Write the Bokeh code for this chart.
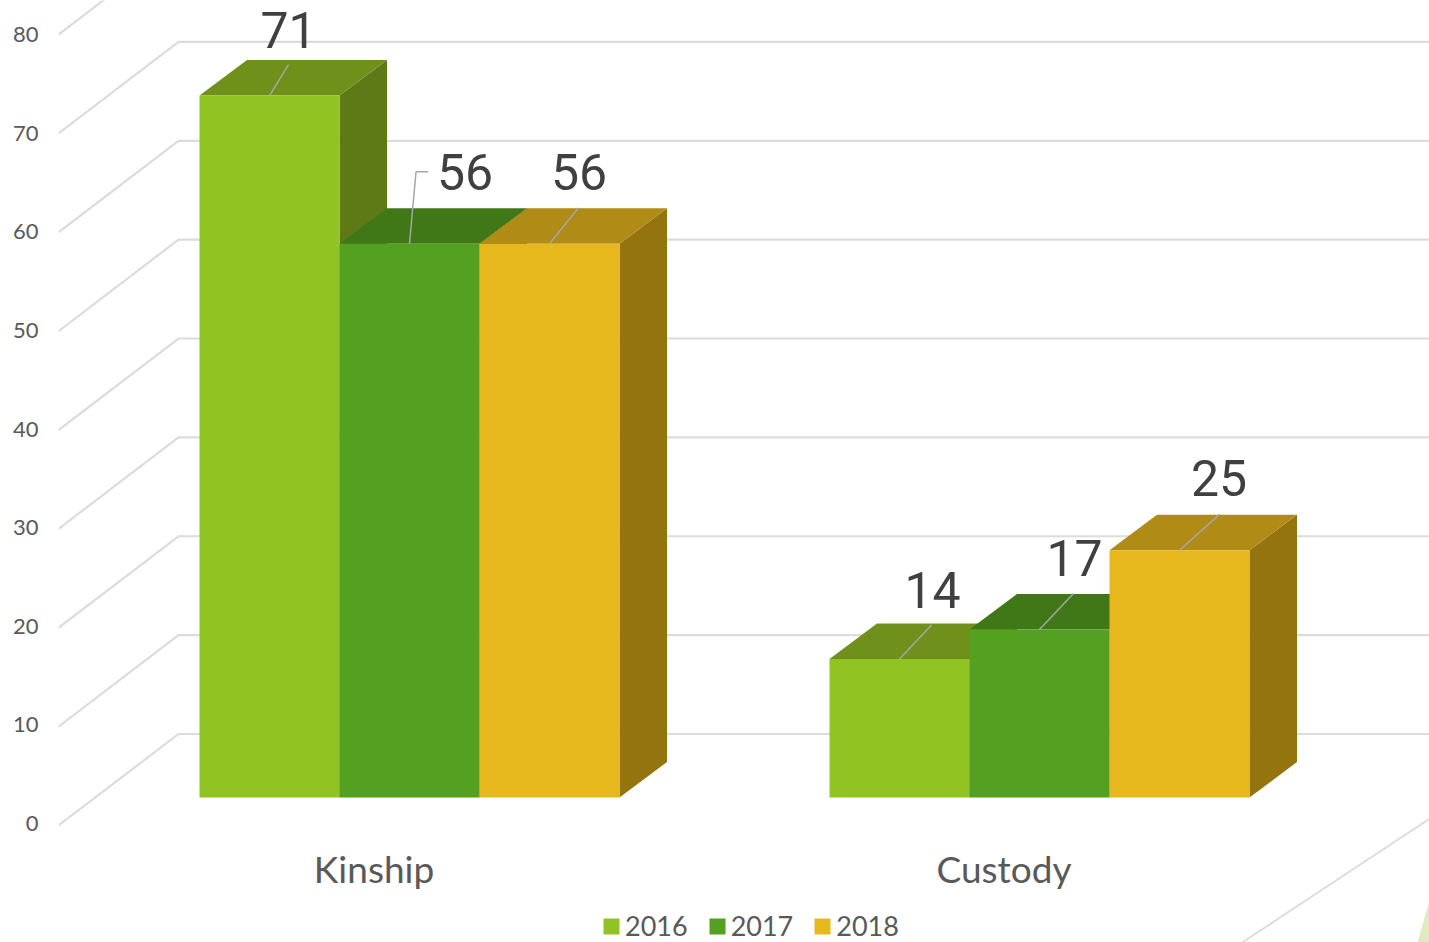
from bokeh.plotting import figure
from bokeh.models import ColumnDataSource, Range1d, LinearAxis, Legend, LegendItem, FixedTicker
from bokeh.core.properties import value
from bokeh.embed import file_html
from bokeh.resources import INLINE

categories = ["Kinship", "Custody"]
category_slots = [0.0, 4.5]
series_names = ["2016", "2017", "2018"]
values_2016 = [71, 14]
values_2017 = [56, 17]
values_2018 = [56, 25]
tick_values = [0, 10, 20, 30, 40, 50, 60, 70, 80]

front_colors = ["#91C423", "#54A020", "#E6B81D"]
top_colors = ["#6F911C", "#407817", "#B08B15"]
side_colors = ["#5E7A16", "#3A6B14", "#93740F"]
GRID = "#DCDCDC"
LEADER = "#A6A6A6"
TEXT_DARK = "#404040"
TEXT_MID = "#595959"
LABEL_FONT = "Roboto"
FONT = "Lato"

W, H = 1429, 942
LEFT = 58
PX_PER_BAR = 140.0
PX_PER_UNIT = 9.887
ORIGIN_X = 199.0   # pixel of slot 0
ORIGIN_Y = 797.0   # pixel of value 0 on the front plane


def xu(px):
    return px / PX_PER_BAR


def yu(px):
    return px / PX_PER_UNIT


DX, DY = xu(47.5), yu(35.5)

p = figure(width=W, height=H, output_backend="svg", toolbar_location=None,
           x_range=Range1d(xu(LEFT - ORIGIN_X), xu(W - ORIGIN_X)),
           y_range=Range1d(yu(ORIGIN_Y - H), yu(ORIGIN_Y)),
           min_border=0, min_border_left=LEFT, outline_line_color=None,
           background_fill_color="white", border_fill_color="white")
p.xaxis.visible = False
p.yaxis.visible = False
p.xgrid.visible = False
p.ygrid.visible = False

# value labels on the left, on their own slightly different scale
p.extra_y_ranges["labels"] = Range1d(-(H - 823) / 9.8625, 823 / 9.8625)
axis = LinearAxis(y_range_name="labels", ticker=FixedTicker(ticks=tick_values),
                  axis_line_color=None, major_tick_line_color=None, minor_tick_line_color=None,
                  major_tick_out=0, major_tick_in=0, minor_tick_out=0, minor_tick_in=0,
                  major_label_standoff=20, major_label_text_font=FONT,
                  major_label_text_font_size="22px", major_label_text_color=TEXT_MID)
p.add_layout(axis, "left")

# floor/back wall grid: front end -> back corner -> far right
x_front, x_back, x_right = xu(LEFT - ORIGIN_X), xu(178 - ORIGIN_X), xu(W - ORIGIN_X)
wall_drop, back_rise = yu(28), yu(63.5)
p.multi_line(xs=[[x_front, x_back, x_right] for _ in tick_values],
             ys=[[v - wall_drop, v + back_rise, v + back_rise] for v in tick_values],
             line_color=GRID, line_width=2.2)

# right-hand floor edge and the sliver of decoration in the corner
p.line(x=[xu(1241.7 - ORIGIN_X), x_right], y=[yu(ORIGIN_Y - 942), yu(ORIGIN_Y - 818.3)],
       line_color=GRID, line_width=1.8)
p.patch(x=[x_right, xu(1417 - ORIGIN_X), x_right],
        y=[yu(ORIGIN_Y - 900), yu(ORIGIN_Y - 942), yu(ORIGIN_Y - 942)],
        fill_color="#DFECC0", line_color=None)

series = [values_2016, values_2017, values_2018]
legend_items = []
for s, vals in enumerate(series):
    lefts = [slot + s for slot in category_slots]
    rights = [l + 1 for l in lefts]
    p.patches(xs=[[r, r + DX, r + DX, r] for r in rights],
              ys=[[0, DY, v + DY, v] for v in vals],
              fill_color=side_colors[s], line_color=None)
    p.patches(xs=[[l, r, r + DX, l + DX] for l, r in zip(lefts, rights)],
              ys=[[v, v, v + DY, v + DY] for v in vals],
              fill_color=top_colors[s], line_color=None)
    front = p.quad(left=lefts, right=rights, bottom=0, top=vals,
                   fill_color=front_colors[s], line_color=None)
    legend_items.append(LegendItem(label=series_names[s], renderers=[front]))

# per-bar placement of value labels and their leader lines (pixels from the bar's top centre)
label_offsets = [[(19, -66), (33, -69)], [(55.5, -72), (35, -71)], [(29.5, -72), (39.5, -72)]]
leader_offsets = [[[(19, -31)], [(32, -34)]],
                  [[(6.5, -72), (18.5, -72)], [(34, -36)]],
                  [[(29, -36)], [(40, -36)]]]

lx, ly, lt, ox, oy, ldx, ldy = [], [], [], [], [], [], []
for s, vals in enumerate(series):
    for c, v in enumerate(vals):
        cx = category_slots[c] + s + 0.5
        lx.append(cx); ly.append(v); lt.append(str(v))
        ox.append(label_offsets[s][c][0]); oy.append(label_offsets[s][c][1])
        ldx.append([cx] + [cx + xu(a) for a, _ in leader_offsets[s][c]])
        ldy.append([v] + [v - yu(b) for _, b in leader_offsets[s][c]])

p.multi_line(xs=ldx, ys=ldy, line_color=LEADER, line_width=1.5)
p.text(source=ColumnDataSource(dict(x=lx, y=ly, t=lt, ox=ox, oy=oy)), x="x", y="y", text="t",
       x_offset="ox", y_offset="oy", text_align="center", text_baseline="middle",
       text_font=value(LABEL_FONT), text_font_size="50px", text_color=TEXT_DARK)

# category labels
cat_x = [slot + 1.5 for slot in category_slots]
p.text(x=cat_x, y=[0, 0], text=categories, x_offset=-35.5, y_offset=71,
       text_align="center", text_baseline="middle",
       text_font=value(FONT), text_font_size="37px", text_color=TEXT_MID)

legend = Legend(items=legend_items, orientation="horizontal", location=(601 - LEFT, 0),
                padding=0, margin=0, spacing=19, label_standoff=4,
                glyph_width=20, glyph_height=20, label_text_font=FONT,
                label_text_font_size="27px", label_text_color=TEXT_MID,
                border_line_color=None, background_fill_alpha=0)
p.add_layout(legend)

html = file_html(p, INLINE)
html = html.replace("<head>", "<head><style>html,body{margin:0;padding:0;overflow:hidden}</style>", 1)
open("out.html", "w").write(html)
